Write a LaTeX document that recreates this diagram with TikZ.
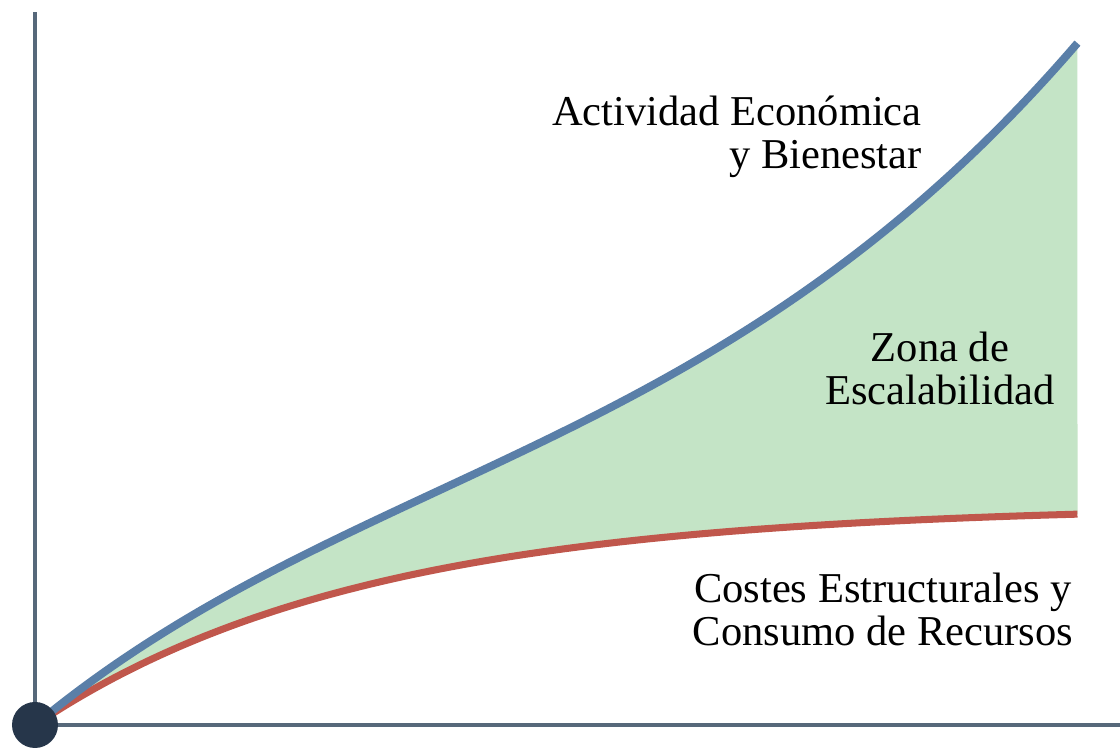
\documentclass[tikz,border=0pt]{standalone}
\usepackage{fontspec}
\setmainfont{Liberation Serif}
\definecolor{azulcurva}{HTML}{5A7FA8}
\definecolor{rojocurva}{HTML}{C0574C}
\definecolor{verdezona}{HTML}{C4E4C6}
\definecolor{grisje}{HTML}{56687A}
\definecolor{puntoorigen}{HTML}{26364A}
\tikzset{
  declare function={costes(\x)=4.4*(1-exp(-\x/6.56));
    actividad(\x)=costes(\x)+0.16*\x+0.445*(\x/10)^3+0.1086*(\x/10)^4;},
  eje/.style={color=grisje,line width=2.2pt},
  etiqueta/.style={font=\fontsize{24.2}{24.5}\selectfont,inner sep=0pt}
}
\begin{document}
\begin{tikzpicture}
\useasboundingbox (-0.7,-0.46) rectangle (21.7,14.5);
\fill[verdezona] plot[domain=0:20.85,samples=200,variable=\x] (\x,{actividad(\x)}) -- plot[domain=20.85:0,samples=200,variable=\x] (\x,{costes(\x)}) -- cycle;
\draw[rojocurva,line width=4pt] plot[domain=0:20.85,samples=200,variable=\x] (\x,{costes(\x)});
\draw[azulcurva,line width=4.5pt] plot[domain=0:20.85,samples=200,variable=\x] (\x,{actividad(\x)});
\node[circle,fill=puntoorigen,inner sep=0pt,minimum size=0.92cm] (O) at (0,0){};
\coordinate (ytop) at (0,14.26);\coordinate (xend) at (21.7,0);
\draw[eje] (O) -- (ytop);\draw[eje] (O) -- (xend);
\node[etiqueta,align=right,anchor=east] (actividad) at (17.74,11.76){Actividad Económica\\y Bienestar};
\node[etiqueta,align=center] (zona) at (18.1,7.13){Zona de\\Escalabilidad};
\node[etiqueta,align=center] (costes) at (16.96,2.32){Costes Estructurales y\\Consumo de Recursos};
\end{tikzpicture}
\end{document}
